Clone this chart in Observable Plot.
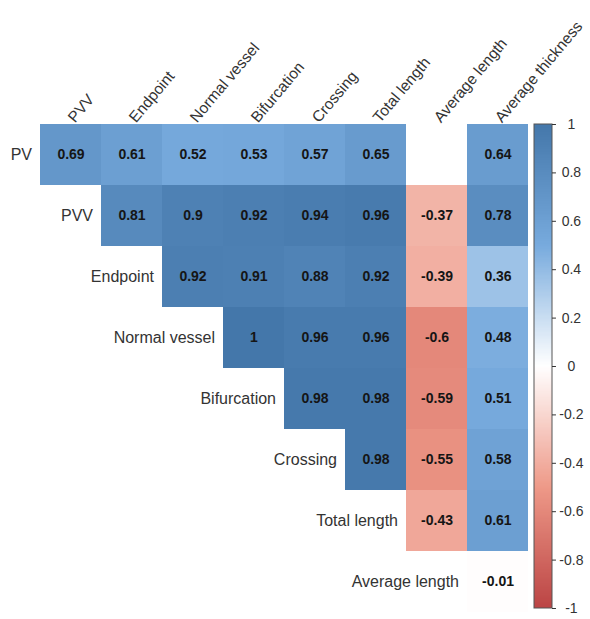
<!DOCTYPE html>
<html>
<head>
<meta charset="utf-8">
<script src="https://cdn.jsdelivr.net/npm/d3@7"></script>
<script src="https://cdn.jsdelivr.net/npm/@observablehq/plot@0.6"></script>
<style>
  html, body { margin: 0; padding: 0; background: #fff; }
  #chart { position: relative; width: 590px; height: 619px; }
  #chart svg { position: absolute; left: 0; top: 0; font-family: "Liberation Sans", Arial, sans-serif; }
</style>
</head>
<body>
<div id="chart"></div>
<script>
// Variables of the vessel analysis
const rowNames = ["PV", "PVV", "Endpoint", "Normal vessel", "Bifurcation", "Crossing", "Total length", "Average length"];
const colNames = ["PVV", "Endpoint", "Normal vessel", "Bifurcation", "Crossing", "Total length", "Average length", "Average thickness"];

// Upper-triangle correlations, one array per row (row i starts at column i); null = not shown
const corrPV            = [0.69, 0.61, 0.52, 0.53, 0.57, 0.65, null, 0.64];
const corrPVV           = [0.81, 0.9, 0.92, 0.94, 0.96, -0.37, 0.78];
const corrEndpoint      = [0.92, 0.91, 0.88, 0.92, -0.39, 0.36];
const corrNormalVessel  = [1, 0.96, 0.96, -0.6, 0.48];
const corrBifurcation   = [0.98, 0.98, -0.59, 0.51];
const corrCrossing      = [0.98, -0.55, 0.58];
const corrTotalLength   = [-0.43, 0.61];
const corrAverageLength = [-0.01];

const legendTicks = [1, 0.8, 0.6, 0.4, 0.2, 0, -0.2, -0.4, -0.6, -0.8, -1];

const rowValues = [corrPV, corrPVV, corrEndpoint, corrNormalVessel, corrBifurcation, corrCrossing, corrTotalLength, corrAverageLength];

const cells = [];
rowValues.forEach((vals, i) => {
  vals.forEach((v, k) => {
    if (v !== null) cells.push({row: rowNames[i], col: colNames[i + k], value: v});
  });
});
const rowLabels = rowNames.map((name, i) => ({row: name, col: colNames[i]}));

const colorScale = {
  type: "linear",
  domain: [-1, -0.5, 0, 0.5, 1],
  range: ["#BB4444", "#EE9988", "#FFFFFF", "#77AADD", "#4477AA"]
};

const textColor = "#333333";

const matrix = Plot.plot({
  width: 590,
  height: 619,
  marginLeft: 40,
  marginRight: 62,
  marginTop: 124,
  marginBottom: 7,
  style: {background: "transparent", overflow: "visible"},
  x: {domain: colNames, padding: 0, axis: null},
  y: {domain: rowNames, padding: 0, axis: null},
  color: colorScale,
  marks: [
    Plot.cell(cells, {x: "col", y: "row", fill: "value", inset: 0, shapeRendering: "crispEdges"}),
    Plot.text(cells, {
      x: "col", y: "row", text: d => String(d.value),
      fontSize: 14, fontWeight: "bold", fill: "#151515"
    }),
    Plot.text(rowLabels, {
      x: "col", y: "row", text: "row", textAnchor: "end", dx: -39,
      fontSize: 16, fill: textColor
    }),
    Plot.text(colNames, {
      x: d => d, frameAnchor: "top", text: d => d, rotate: -50,
      textAnchor: "start", lineAnchor: "bottom", dx: 4, dy: -1,
      fontSize: 15.5, fill: textColor
    })
  ]
});

// Colour bar: overlapping thin slices spanning [-1, 1]
const step = 0.005;
const ramp = d3.range(-1, 1, step).map(v => ({y1: v, y2: Math.min(1, v + 2 * step), mid: v + step / 2}));

const legend = Plot.plot({
  width: 590,
  height: 619,
  marginLeft: 534,
  marginRight: 38,
  marginTop: 124,
  marginBottom: 11,
  style: {background: "transparent", overflow: "visible"},
  x: {domain: [0, 1], axis: null},
  y: {domain: [-1, 1], axis: null},
  color: colorScale,
  marks: [
    Plot.rect(ramp, {x1: 0, x2: 1, y1: "y1", y2: "y2", fill: "mid", inset: 0, shapeRendering: "crispEdges"}),
    Plot.rect([0], {x1: 0, x2: 1, y1: -1, y2: 1, inset: 0, fill: "none", stroke: "#555", strokeWidth: 1}),
    Plot.ruleY(legendTicks, {y: d => d, x1: 1, x2: 1.22, stroke: "#333"}),
    Plot.text(legendTicks, {
      y: d => d, x: 2.05, text: d => String(d), textAnchor: "middle",
      fontSize: 14, fill: textColor
    })
  ]
});

const root = document.getElementById("chart");
root.appendChild(matrix);
root.appendChild(legend);
</script>
</body>
</html>
